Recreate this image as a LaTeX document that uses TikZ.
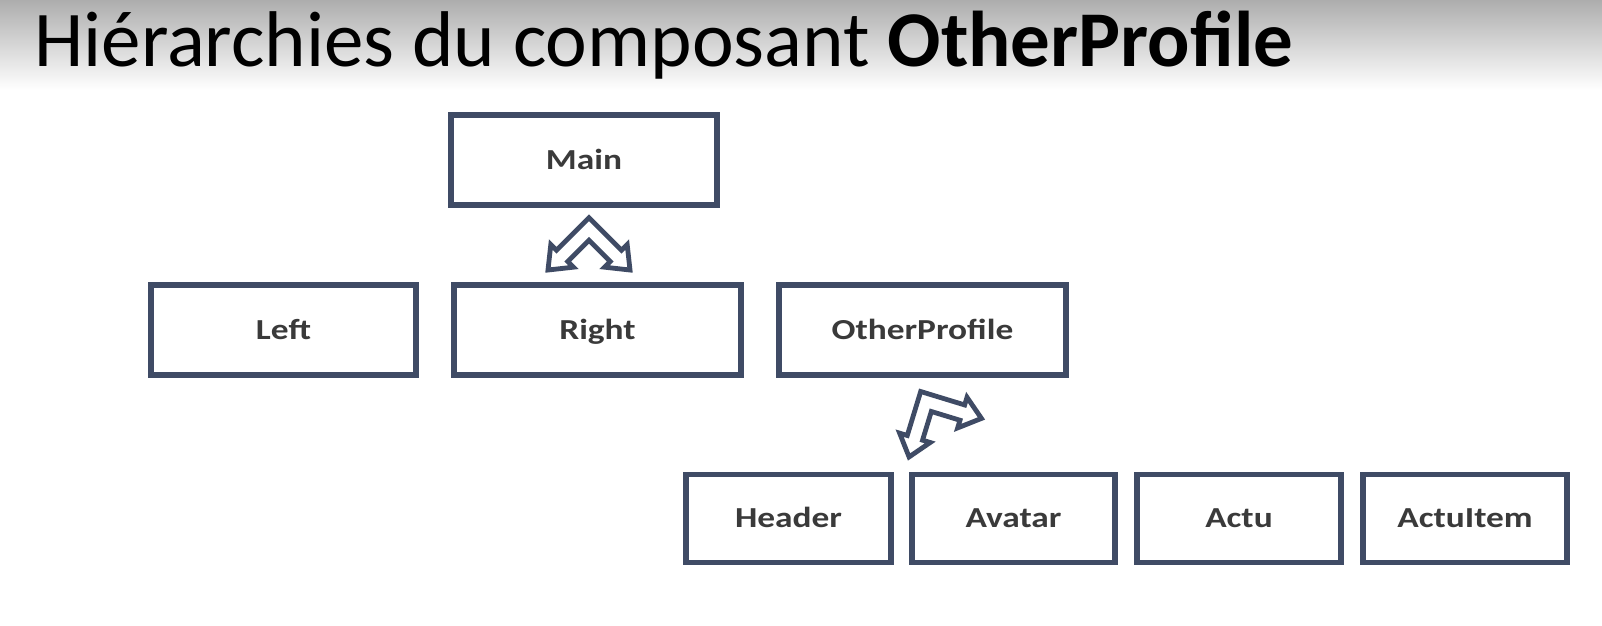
\documentclass[tikz,border=0pt]{standalone}
\usepackage{fontspec}
\newfontfamily\boxfont[FakeStretch=1.22]{Carlito}
\newfontfamily\titlefont{Carlito}
\definecolor{boxblue}{HTML}{3F4B65}
\definecolor{txtgray}{HTML}{3A3A3A}
\tikzset{
  compbox/.style={draw=boxblue, line width=2.75pt, fill=white, rectangle,
    minimum height=45pt, inner sep=0pt, text height=9.2pt, text depth=0pt,
    font=\boxfont\fontsize{14.5pt}{16pt}\selectfont\bfseries, text=txtgray},
  arrowshape/.style={draw=boxblue, line width=2.4pt, fill=white, line join=miter},
  lrarrow/.pic={
    \path[arrowshape] (-8,-8) -- (38,-8) -- (38,-16) -- (58,0) -- (38,16) -- (38,8)
      -- (8,8) -- (8,38) -- (16,38) -- (0,58) -- (-16,38) -- (-8,38) -- cycle;
  }
}
\begin{document}
\begin{tikzpicture}[x=0.5pt, y=-0.5pt]
\useasboundingbox (0,0) rectangle (1602,626);
\fill[white] (0,0) rectangle (1602,626);
\shade[top color=black!32, bottom color=white] (0,0) rectangle (1602,90);
\node[anchor=base west, inner sep=0pt, font=\titlefont\fontsize{39.5pt}{44pt}\selectfont] (title) at (34,67)
  {Hiérarchies du composant {\bfseries OtherProfile}};
% row 1
\node[compbox, minimum width=133pt] (main) at (584,160) {Main};
% row 2
\node[compbox, minimum width=132.5pt] (left) at (283.5,330) {Left};
\node[compbox, minimum width=143.5pt] (right) at (597.5,330) {Right};
\node[compbox, minimum width=143.5pt] (other) at (922.5,330) {OtherProfile};
% row 3
\node[compbox, minimum width=102.5pt, minimum height=44pt] (header) at (788.5,518.5) {Header};
\node[compbox, minimum width=101.5pt, minimum height=44pt] (avatar) at (1013.5,518.5) {Avatar};
\node[compbox, minimum width=102pt, minimum height=44pt] (actu) at (1239,518.5) {Actu};
\node[compbox, minimum width=102pt, minimum height=44pt] (actuitem) at (1465,518.5) {ActuItem};
% bent double arrows
\coordinate (arrA) at (589,229);
\coordinate (arrB) at (926,401.5);
\begin{scope}[shift={(arrA)}, x={(-0.35355pt,-0.35355pt)}, y={(0.35355pt,-0.35355pt)}]
  \pic {lrarrow};
\end{scope}
\begin{scope}[shift={(arrB)}, x={(0.478pt,-0.146pt)}, y={(-0.146pt,-0.478pt)}]
  \pic {lrarrow};
\end{scope}
\end{tikzpicture}
\end{document}
